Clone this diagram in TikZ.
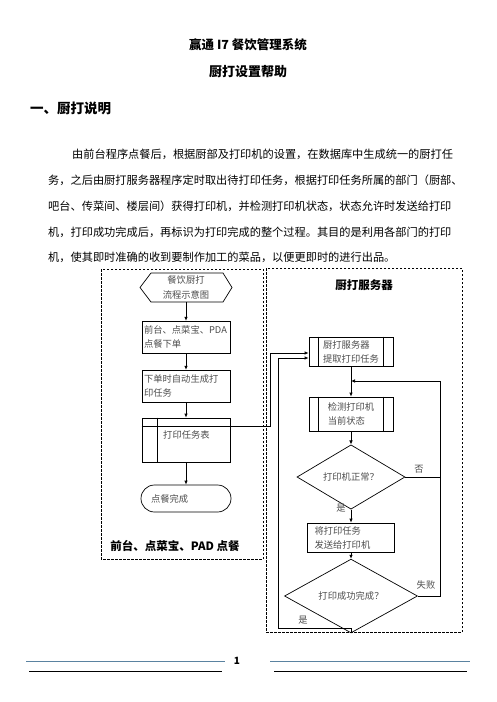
\documentclass[tikz,border=0pt]{standalone}
\usepackage{fontspec}
\setmainfont{Noto Sans CJK SC}
\XeTeXlinebreaklocale "zh"
\XeTeXlinebreakskip=0pt plus 1pt
\usetikzlibrary{arrows.meta,shapes.geometric,calc}
\definecolor{footblue}{RGB}{90,130,160}

\tikzset{
  flowtext/.style={font=\fontsize{9.3}{14}\selectfont, text=black!70},
  procbox/.style={draw, flowtext, align=left, inner ysep=0pt},
  decision/.style={draw, diamond, flowtext, inner sep=0pt},
  arr/.style={-{Latex[length=4pt,width=3.5pt]}},
  conn/.style={line width=0.7pt},
  zone/.style={line width=0.8pt, dash pattern=on 2.5pt off 1.5pt},
  para/.style={anchor=west, inner sep=0pt, font=\fontsize{11.2}{14}\selectfont},
  boldlabel/.style={font=\bfseries\fontsize{11.5}{14}\selectfont},
}

\begin{document}
\begin{tikzpicture}[x=1pt,y=-1pt]

\useasboundingbox (0,0) rectangle (496,702);

\node[font=\bfseries\fontsize{12.5}{15}\selectfont] (title) at (248,45) {赢通 I7 餐饮管理系统};
\node[font=\bfseries\fontsize{13}{15}\selectfont] (subtitle) at (248,72) {厨打设置帮助};
\node[anchor=west, inner sep=0pt, font=\bfseries\fontsize{13.5}{15}\selectfont] (heading) at (30,108) {一、厨打说明};

% paragraph, one node per line
\node[para] (p1) at (72,154) {\makebox[393pt][s]{由前台程序点餐后，根据厨部及打印机的设置，在数据库中生成统一的厨打任}};
\node[para] (p2) at (48,180) {\makebox[417pt][s]{务，之后由厨打服务器程序定时取出待打印任务，根据打印任务所属的部门（厨部、}};
\node[para] (p3) at (48,206) {\makebox[417pt][s]{吧台、传菜间、楼层间）获得打印机，并检测打印机状态，状态允许时发送给打印}};
\node[para] (p4) at (48,232) {\makebox[417pt][s]{机，打印成功完成后，再标识为打印完成的整个过程。其目的是利用各部门的打印}};
\node[para] (p5) at (48,257) {机，使其即时准确的收到要制作加工的菜品，以便更即时的进行出品。};

% the two zones
\draw[zone] (101,269) rectangle (263,559);
\draw[zone] (266,268) rectangle (462,632);
\node[boldlabel] (lefttitle) at (175,546) {前台、点菜宝、PAD 点餐};
\node[boldlabel] (righttitle) at (364,285) {厨打服务器};

% left column
\node[flowtext, align=center, minimum height=29, inner sep=0pt, font=\fontsize{9.3}{15}\selectfont] (start) at (186,287.5) {餐饮厨打\\流程示意图};
\draw[conn] (140,287.5) -- (151,273) -- (223,273) -- (232,287.5) -- (223,302) -- (151,302) -- cycle;

\node[procbox, minimum width=88, minimum height=32, text width=84, inner xsep=2pt] (order) at (186,337) {前台、点菜宝、PDA\\点餐下单};
\node[procbox, minimum width=88, minimum height=32, text width=84, inner xsep=2pt] (task) at (186,386) {下单时自动生成打\\印任务};

\node[draw, conn, minimum width=88, minimum height=44] (tbl) at (186,440) {};
\draw[conn] ([yshift=-9pt]tbl.north west) -- ([yshift=-9pt]tbl.north east);
\draw[conn] ([xshift=16pt]tbl.north west) -- ([xshift=16pt]tbl.south west);
\node[flowtext, anchor=west, inner sep=0pt] (tbltext) at (163,435) {打印任务表};

\node[draw, conn, flowtext, rounded corners=13.5pt, minimum width=90, minimum height=27, text width=70, inner xsep=10pt, align=left] (done) at (186,498.5) {点餐完成};

\draw[conn,arr] (start.south) -- (order.north);
\draw[conn,arr] (order) -- (task);
\draw[conn,arr] (task) -- (tbl);
\draw[conn,arr] (tbl) -- (done);

% right column
\node[procbox, conn, minimum width=84, minimum height=29] (fetch) at (351,351.5) {厨打服务器\\提取打印任务};
\node[procbox, conn, minimum width=84, minimum height=34] (check) at (351,414) {检测打印机\\当前状态};
\foreach \n in {fetch,check} {
  \draw[conn] ([xshift=10pt]\n.north west) -- ([xshift=10pt]\n.south west);
  \draw[conn] ([xshift=-10pt]\n.north east) -- ([xshift=-10pt]\n.south east);
}
\node[decision, conn, minimum width=108, minimum height=38] (ok) at (351,477) {打印机正常？};
\node[procbox, conn, minimum width=87, minimum height=29, text width=73, inner xsep=7pt] (send) at (351,537.5) {将打印任务\\发送给打印机};
\node[decision, conn, minimum width=133, minimum height=40] (done2) at (351,596) {打印成功完成？};

\draw[conn,arr] (fetch) -- (check);
\draw[conn,arr] (check) -- (ok);
\draw[conn,arr] (ok) -- (send);
\draw[conn,arr] (send) -- (done2);

\coordinate (jA) at (270,353);
\coordinate (jB) at (440,381);
\coordinate (jC) at (278,628);
\coordinate (jD) at (278,358);

\draw[conn,arr] ([yshift=-9pt]tbl.north east) -| (jA) -- (jA -| fetch.west);
\draw[conn,arr] (ok.east) -| (jB) -- (jB -| fetch.south);
\draw[conn] (done2.east) -| (jB);
\draw[conn,arr] (done2.south) |- (jC) -- (jD) -- (jD -| fetch.west);

\node[flowtext] (yes1) at (341,508) {是};
\node[flowtext] (no1) at (419,469) {否};
\node[flowtext] (fail) at (426,585) {失败};
\node[flowtext] (yes2) at (303,620) {是};

% footer
\draw[footblue, line width=0.7pt] (26,661) -- (225,661);
\draw[footblue, line width=0.7pt] (270,661) -- (470,661);
\draw[line width=0.8pt] (29,671) -- (222,671);
\draw[line width=0.8pt] (274,671) -- (467,671);
\node[font=\bfseries\fontsize{10}{12}\selectfont] (page) at (237,661) {1};

\end{tikzpicture}
\end{document}
